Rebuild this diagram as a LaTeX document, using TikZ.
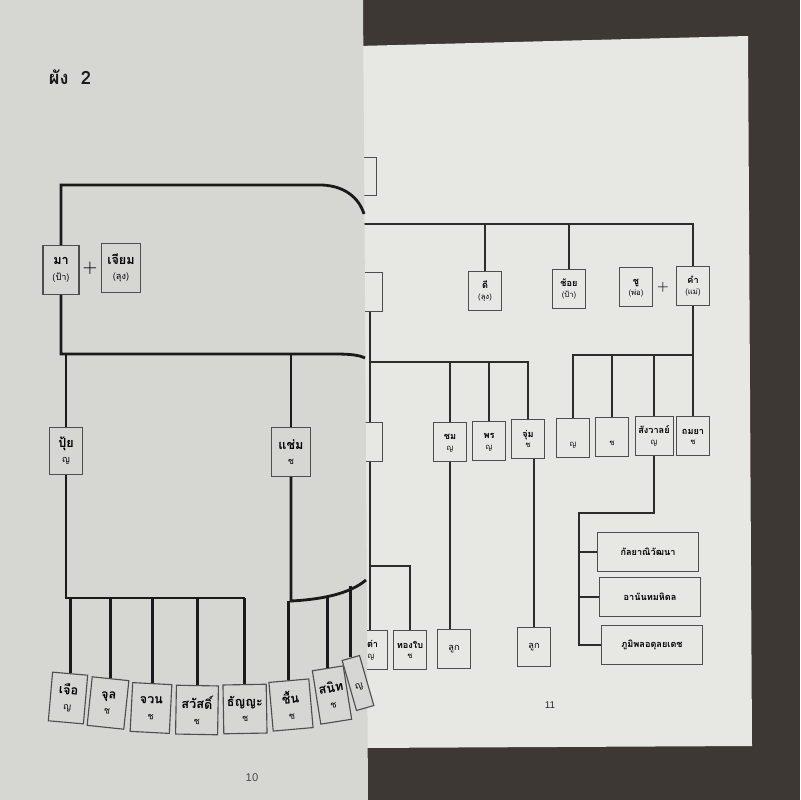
\documentclass[tikz,border=0pt]{standalone}
\usepackage{fontspec}
\newfontfamily\thaifont[Script=Thai]{Loma}
\newfontfamily\pagefont{Liberation Sans}
\usetikzlibrary{positioning}

\definecolor{wood}{HTML}{3D3834}
\definecolor{leftpage}{HTML}{D6D7D3}
\definecolor{rightpage}{HTML}{E7E7E4}
\definecolor{ink}{HTML}{1A1A1A}
\definecolor{rink}{HTML}{2C2C2C}
\definecolor{boxline}{HTML}{4E4E4E}

% name with a small second line (sex or kin term)
\newcommand{\kinL}[2]{\textbf{#1}\\[1pt]{\fontsize{6.5}{7}\selectfont #2}}
\newcommand{\kinR}[2]{\textbf{#1}\strut\\{\fontsize{5.5}{6}\selectfont #2}}

\tikzset{
  lbox/.style={draw=boxline, line width=0.8pt, fill=leftpage, minimum width=0.9cm,
    minimum height=1.22cm, inner sep=1pt, align=center,
    font=\thaifont\fontsize{9}{10}\selectfont},
  rbox/.style={draw=boxline, line width=0.7pt, fill=rightpage, minimum width=0.84cm,
    minimum height=0.98cm, inner sep=1pt, align=center,
    font=\thaifont\fontsize{6.5}{7.5}\selectfont},
  wbox/.style={rbox, minimum width=2.53cm},
  lline/.style={draw=ink, line width=2pt},
  rline/.style={draw=rink, line width=1.7pt},
  plusmark/.style={font=\bfseries\fontsize{#1}{#1}\selectfont},
}

\begin{document}
\begin{tikzpicture}[x=0.025cm,y=-0.025cm]
\useasboundingbox (0,0) rectangle (800,800);
\fill[wood] (0,0) rectangle (800,800);

% page 11
\fill[rightpage] (358,46) -- (748,36) -- (752,746) -- (358,748) -- cycle;

\node[rbox, minimum width=0.65cm, minimum height=0.95cm] (rp0) at (363,176) {};
\node[rbox, minimum width=0.6cm] (rp1) at (370,292) {};
\node[rbox] (dee) at (485,291) {\kinR{ดี}{(ลุง)}};
\node[rbox] (choi) at (569,289) {\kinR{ช้อย}{(ป้า)}};
\node[rbox] (chu) at (636,287) {\kinR{ชู}{(พ่อ)}};
\node[plusmark=9, text=rink] (plusR) at (663,287) {+};
\node[rbox] (kham) at (693,286) {\kinR{คำ}{(แม่)}};

\node[rbox, minimum width=0.6cm] (rp2) at (370,442) {};
\node[rbox] (chom) at (450,442) {\kinR{ชม}{ญ}};
\node[rbox] (phon) at (489,441) {\kinR{พร}{ญ}};
\node[rbox] (chum) at (528,439) {\kinR{จุ่ม}{ช}};
\node[rbox] (ying) at (573,438) {\kinR{}{ญ}};
\node[rbox] (chai) at (612,437) {\kinR{}{ช}};
\node[rbox, minimum width=0.95cm] (sangwan) at (654,436) {\kinR{สังวาลย์}{ญ}};
\node[rbox] (thamaya) at (693,436) {\kinR{ถมยา}{ช}};

\node[rbox, minimum width=0.82cm] (tao) at (371,650) {\kinR{เต่า}{ญ}};
\node[rbox] (thongbai) at (410,650) {\kinR{ทองใบ}{ช}};
\node[rbox] (luk1) at (454,649) {ลูก};
\node[rbox] (luk2) at (534,647) {ลูก};

\node[wbox] (kalaya) at (648,552) {\textbf{กัลยาณิวัฒนา}};
\node[wbox] (ananda) at (650,597) {\textbf{อานันทมหิดล}};
\node[wbox] (bhumibol) at (652,645) {\textbf{ภูมิพลอดุลยเดช}};

\coordinate (rtop) at (362,224);
\coordinate (kbar) at (573,355);
\coordinate (lbar) at (370,362);
\coordinate (tbar) at (370,566);
\coordinate (sbar) at (579,513);

\draw[rline] (rtop) -| (kham.north);
\draw[rline] (dee.north) -- (dee.north |- rtop);
\draw[rline] (choi.north) -- (choi.north |- rtop);

\draw[rline] (kham.south) |- (kbar) -- (ying.north);
\foreach \c in {chai,sangwan,thamaya}
  \draw[rline] (\c.north) -- (\c.north |- kbar);

\draw[rline] (rp1.south) |- (chum.north |- lbar) -- (chum.north);
\draw[rline] (rp2.north) -- (rp2.north |- lbar);
\draw[rline] (chom.north) -- (chom.north |- lbar);
\draw[rline] (phon.north) -- (phon.north |- lbar);

\draw[rline] (rp2.south) -- (rp2.south |- tao.north);
\draw[rline] (tbar) -| (thongbai.north);
\draw[rline] (chom.south) -- (chom.south |- luk1.north);
\draw[rline] (luk2.north) -- (luk2.north |- chum.south);

\draw[rline] (sangwan.south) |- (sbar) -- (sbar |- bhumibol.west) -- (bhumibol.west);
\draw[rline] (sbar |- kalaya.west) -- (kalaya.west);
\draw[rline] (sbar |- ananda.west) -- (ananda.west);

\node[font=\pagefont\fontsize{7}{8}\selectfont, text=rink] (pg11) at (550,705) {11};

% page 10
\fill[leftpage] (-1,-1) -- (363,-1) -- (365,300) -- (368,801) -- (-1,801) -- cycle;

\node[font=\thaifont\bfseries\fontsize{13}{14}\selectfont, text=ink] (title) at (70,77) {ผัง~~2};

\node[lbox] (ma) at (61,270) {\kinL{มา}{(ป้า)}};
\node[plusmark=12, text=ink] (plusL) at (90,268) {+};
\node[lbox, minimum width=0.98cm] (jiam) at (121,268) {\kinL{เจียม}{(ลุง)}};

\node[lbox, minimum width=0.83cm, minimum height=1.18cm] (pui) at (66,451) {\kinL{ปุ้ย}{ญ}};
\node[lbox, minimum width=0.98cm] (chaem) at (291,452) {\kinL{แช่ม}{ช}};

\node[lbox, minimum width=0.88cm, rotate=-5] (chuea) at (68,698) {\kinL{เจือ}{ญ}};
\node[lbox, minimum width=0.92cm, rotate=-6] (chun) at (108,703) {\kinL{จุล}{ช}};
\node[lbox, minimum width=0.98cm, rotate=-3] (chuan) at (151,708) {\kinL{จวน}{ช}};
\node[lbox, minimum width=1.05cm, rotate=-1] (sawat) at (197,710) {\kinL{สวัสดิ์}{ช}};
\node[lbox, minimum width=1.08cm, rotate=1] (thanya) at (245,709) {\kinL{ธัญญะ}{ช}};
\node[lbox, minimum width=1.0cm, rotate=5] (chuen) at (291,705) {\kinL{ชื้น}{ช}};
\node[lbox, minimum width=0.78cm, minimum height=1.35cm, rotate=9] (sanit) at (332,695) {\kinL{สนิท}{ช}};
\node[lbox, minimum width=0.45cm, minimum height=1.3cm, rotate=16] (last) at (358,683) {\\{\fontsize{6.5}{7}\selectfont ญ}};

\coordinate (topbend) at (322,185);
\coordinate (topend) at (364,214);
\coordinate (midbend) at (335,354);
\coordinate (midend) at (365,358);
\coordinate (bar1) at (245,598);
\coordinate (bar2) at (291,601);
\coordinate (bar2b) at (334,596);
\coordinate (bar2c) at (360,586);
\coordinate (bar2end) at (366,580);

\draw[lline] (ma.north) |- (topbend) .. controls (345,186) and (359,198) .. (topend);
\draw[lline] (ma.south) |- (midbend) .. controls (350,354) and (359,355) .. (midend);
\draw[lline] (pui.north) -- (pui.north |- midbend);
\draw[lline] (chaem.north) -- (chaem.north |- midbend);

\draw[lline] (pui.south) -- (pui.south |- bar1) -- (bar1);
\foreach \c in {chuea,chun,chuan,sawat,thanya}
  \draw[lline] (\c.north) -- (\c.north |- bar1);

\draw[lline] (chaem.south) -- (bar2) .. controls (330,599) and (353,591) .. (bar2end);
\draw[lline] (chuen.north) -- (chuen.north |- bar2);
\draw[lline] (sanit.north) -- (sanit.north |- bar2b);
\draw[lline] (last.north) -- (last.north |- bar2c);

\node[font=\pagefont\fontsize{8}{9}\selectfont, text=ink!80] (pg10) at (252,778) {10};
\end{tikzpicture}
\end{document}
